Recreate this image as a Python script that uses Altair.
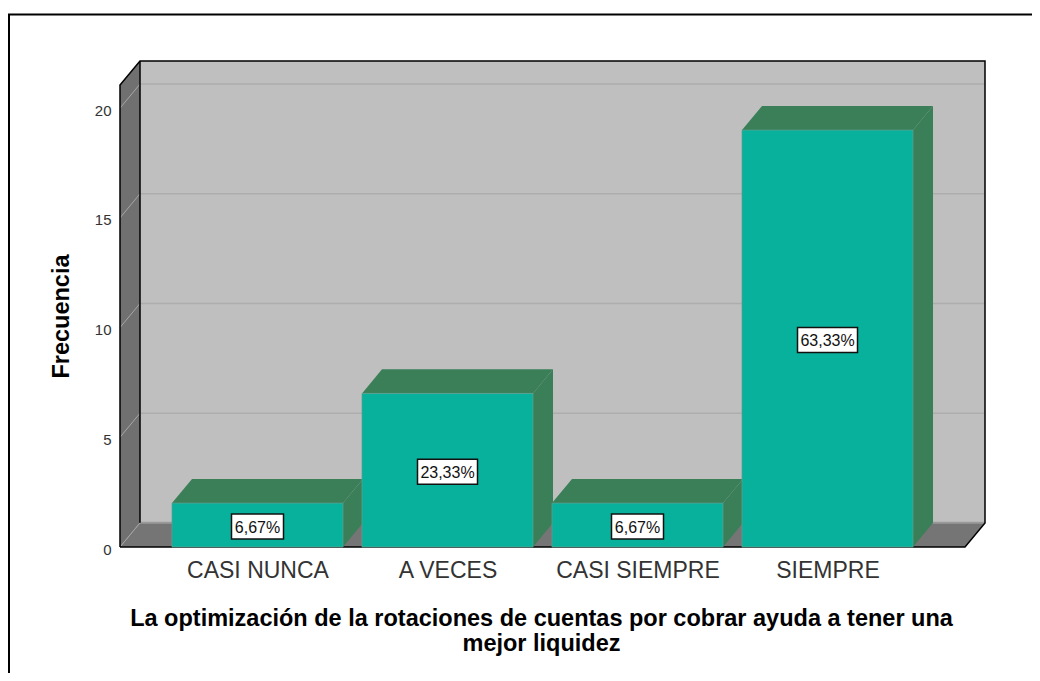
import altair as alt
import pandas as pd

categories = ["CASI NUNCA", "A VECES", "CASI SIEMPRE", "SIEMPRE"]
frequencies = [2, 7, 2, 19]
percent_labels = ["6,67%", "23,33%", "6,67%", "63,33%"]
y_ticks = [0, 5, 10, 15, 20]
y_title = "Frecuencia"
x_title = ["La optimización de la rotaciones de cuentas por cobrar ayuda a tener una", "mejor liquidez"]

FONT = "Liberation Sans"
W, H = 865, 486
X_DOM = [-0.7237, 3.8289]
Y_DOM = [0, 22.15]
PX_X = (X_DOM[1] - X_DOM[0]) / W
PX_Y = (Y_DOM[1] - Y_DOM[0]) / H
DX, DV = 20 * PX_X, 1.1
HALF = 0.45
X0, X1 = X_DOM[0], X_DOM[1] - DX
TOP = Y_DOM[1] - DV

x_scale = alt.Scale(domain=X_DOM, nice=False, zero=False)
y_scale = alt.Scale(domain=Y_DOM, nice=False, zero=False)
label_expr = "[" + ",".join(f"'{c}'" for c in categories) + "][datum.value]"
X_AXIS = alt.Axis(
    values=[0, 1, 2, 3], labelExpr=label_expr, domain=False, ticks=False, grid=False,
    labelFont=FONT, labelFontSize=23, labelColor="#333333", labelPadding=12, labelOverlap=False,
    labelFlush=False,
    titleFont=FONT, titleFontSize=23.5, titleFontWeight="bold", titleColor="#000000",
    titleLineHeight=25, titleX=421, titleY=78, titleBaseline="alphabetic")
Y_AXIS = alt.Axis(
    values=y_ticks, domain=False, ticks=False, grid=False, format="d",
    labelFont=FONT, labelFontSize=15, labelColor="#333333", labelPadding=9, labelOffset=2,
    titleFont=FONT, titleFontSize=23.5, titleFontWeight="bold", titleColor="#000000",
    titleX=-47, titleY=255)
X = alt.X("x:Q", scale=x_scale, title=x_title, axis=X_AXIS)
Y = alt.Y("y:Q", scale=y_scale, title=y_title, axis=Y_AXIS)
Y2 = alt.Y2("y2:Q")
X2 = alt.X2("x2:Q")


def area(points, color):
    d = pd.DataFrame(points, columns=["g", "x", "y", "y2"])
    return alt.Chart(d).mark_area(color=color, interpolate="linear", orient="vertical", strokeWidth=0).encode(
        x=X, y=Y, y2=Y2, detail="g:N")


def lines(points, color, width):
    d = pd.DataFrame(points, columns=["g", "o", "x", "y"])
    return alt.Chart(d).mark_line(color=color, strokeWidth=width).encode(
        x=X, y=Y, detail="g:N", order="o:Q")


# walls and floor
back = area([(0, X0 + DX, Y_DOM[1], DV), (0, X_DOM[1], Y_DOM[1], DV)], "#bfbfbf")
left = area([(0, X0, TOP, 0), (0, X0 + DX, Y_DOM[1], DV)], "#707070")
floor = area([(0, X0, 0, 0), (0, X0 + DX, DV, 0), (0, X1, DV, 0), (0, X_DOM[1], DV, DV)], "#757575")

grid_back = lines(
    [p for t in y_ticks[1:] for p in ((t, 0, X0 + DX, t + DV), (t, 1, X_DOM[1], t + DV))], "#adadad", 1.5)
grid_side = lines(
    [p for t in y_ticks for p in ((t, 0, X0, t), (t, 1, X0 + DX, t + DV))], "#a6a6a6", 1)
floor_back = lines([(0, 0, X0 + DX, DV), (0, 1, X_DOM[1], DV)], "#9a9a9a", 2)

edges = lines([
    (0, 0, X0, 0), (0, 1, X0, TOP), (0, 2, X0 + DX, Y_DOM[1]), (0, 3, X_DOM[1], Y_DOM[1]),
    (0, 4, X_DOM[1], DV), (0, 5, X1, 0), (0, 6, X0, 0),
    (1, 0, X0 + DX, Y_DOM[1]), (1, 1, X0 + DX, DV),
], "#000000", 1.5)

# bars
rows = list(enumerate(frequencies))
top_pts, side_pts = [], []
for i, v in rows:
    a, b = i - HALF, i + HALF
    top_pts += [(i, a, v, v), (i, a + DX, v + DV, v), (i, b, v + DV, v), (i, b + DX, v + DV, v + DV)]
    side_pts += [(i, b, v, 0), (i, b + DX, v + DV, DV)]
tops = area(top_pts, "#3a7f58")
sides = area(side_pts, "#3a7f58")

front_df = pd.DataFrame({
    "x": [i - HALF for i, _ in rows],
    "x2": [i + HALF for i, _ in rows],
    "y": frequencies,
    "y2": [0] * 4,
})
fronts = alt.Chart(front_df).mark_rect(color="#08b19b", stroke="#5f9f92", strokeWidth=0.75).encode(
    x=X, x2=X2, y=Y, y2=Y2)

# percent label boxes
box_w = [52, 60, 52, 60]
label_df = pd.DataFrame({
    "cx": list(range(4)),
    "cy": [v / 2 - 1.5 * PX_Y for v in frequencies],
    "t": percent_labels,
})
label_df["x"] = [c - w / 2 * PX_X for c, w in zip(label_df.cx, box_w)]
label_df["x2"] = [c + w / 2 * PX_X for c, w in zip(label_df.cx, box_w)]
label_df["y"] = label_df.cy + 12.5 * PX_Y
label_df["y2"] = label_df.cy - 12.5 * PX_Y
boxes = alt.Chart(label_df).mark_rect(fill="white", stroke="#111111", strokeWidth=1.5).encode(
    x=X, x2=X2, y=Y, y2=Y2)
texts = alt.Chart(label_df).mark_text(font=FONT, fontSize=16, color="#111111", baseline="middle", dy=1).encode(
    x=alt.X("cx:Q", scale=x_scale, title=x_title, axis=X_AXIS),
    y=alt.Y("cy:Q", scale=y_scale, title=y_title, axis=Y_AXIS),
    text="t:N")

# outer frame (only its left and top sides fall inside the picture)
one = pd.DataFrame({"a": [0]})
frame_left = alt.Chart(one).mark_rule(color="#000000", strokeWidth=2).encode(
    x=alt.value(-111), y=alt.value(-47), y2=alt.value(H + 140))
frame_top = alt.Chart(one).mark_rule(color="#000000", strokeWidth=2).encode(
    y=alt.value(-46.5), x=alt.value(-112), x2=alt.value(W + 60))

chart = alt.layer(
    frame_left, frame_top, back, left, floor, floor_back, grid_back, grid_side, edges,
    sides, tops, fronts, boxes, texts,
).properties(
    width=W, height=H,
    autosize=alt.AutoSizeParams(type="none"),
    padding={"left": 112, "top": 53, "right": 47, "bottom": 126},
).configure_view(stroke=None)

chart.save("out.html", embed_options={"renderer": "svg", "actions": False})
